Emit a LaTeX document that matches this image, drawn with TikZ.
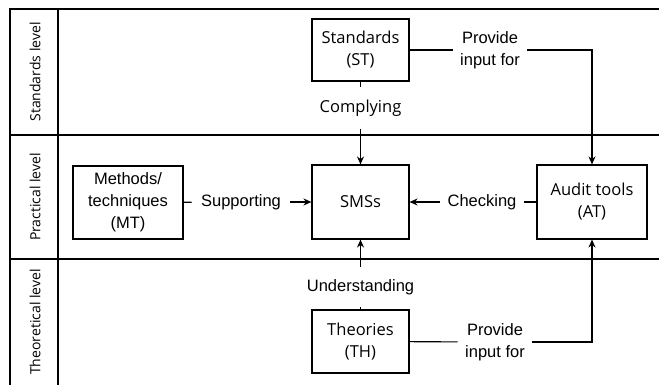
\documentclass[tikz,border=0pt]{standalone}
\usepackage{fontspec}
\setmainfont{Liberation Sans}
\newfontfamily\osans{Open Sans}
\usetikzlibrary{arrows.meta}
\begin{document}
\begin{tikzpicture}[x=1pt,y=-1pt,
  line width=1.1pt,
  every node/.style={font=\fontsize{16.5}{22}\selectfont},
  box/.style={draw, align=center, inner sep=0pt},
  lbl/.style={align=center, inner xsep=7pt, inner ysep=12pt},
  lane/.style={rotate=90, font=\osans\fontsize{14}{16}\selectfont},
  arr/.style={-{Stealth[length=8pt,width=7pt]}}]
\useasboundingbox (0,0) rectangle (659,385);
% frame
\draw (659,9) -- (10,9) -- (10,385);
\draw (58,9) -- (58,385);
\draw (10,135) -- (659,135);
\draw (10,259) -- (659,259);
% lane labels
\node[lane] (l1) at (35,72) {Standards level};
\node[lane] (l2) at (35,197) {Practical level};
\node[lane] (l3) at (35,322) {Theoretical level};
% boxes
\node[box, minimum width=97pt, minimum height=62pt, font=\osans\fontsize{16.5}{22}\selectfont] (ST) at (360.5,50) {Standards\\(ST)};
\node[box, minimum width=97pt, minimum height=74pt, font=\osans\fontsize{16.5}{22}\selectfont] (SMS) at (360.5,202) {SMSs};
\node[box, minimum width=110pt, minimum height=74pt, font=\osans\fontsize{16.5}{22}\selectfont] (AT) at (592,202) {Audit tools\\(AT)};
\node[box, minimum width=110pt, minimum height=73pt] (MT) at (128,202.5) {Methods/\\techniques\\(MT)};
\node[box, minimum width=97pt, minimum height=63pt, font=\osans\fontsize{16.5}{22}\selectfont] (TH) at (360.5,341.5) {Theories\\(TH)};
% labels
\node[lbl, font=\osans\fontsize{16.5}{22}\selectfont] (cmp) at (360.5,108) {Complying};
\node[lbl] (und) at (360.5,287) {Understanding};
\node[lbl, inner xsep=9pt] (sup) at (241,202) {Supporting};
\node[lbl] (chk) at (482,202) {Checking};
\node[lbl] (pv1) at (490,50) {Provide\\input for};
\node[lbl] (pv2) at (495,342) {Provide\\input for};
% connectors
\draw (ST) -- (cmp);
\draw[arr] (cmp) -- (SMS);
\draw (TH) -- (und);
\draw[arr] (und) -- (SMS);
\draw (MT) -- (sup);
\draw[arr] (sup) -- (SMS);
\draw (AT) -- (chk);
\draw[arr] (chk) -- (SMS);
\draw (ST) -- (pv1);
\draw[arr] (pv1) -| (AT);
\draw (TH) -- (pv2);
\draw[arr] (pv2) -| (AT);
\end{tikzpicture}
\end{document}
